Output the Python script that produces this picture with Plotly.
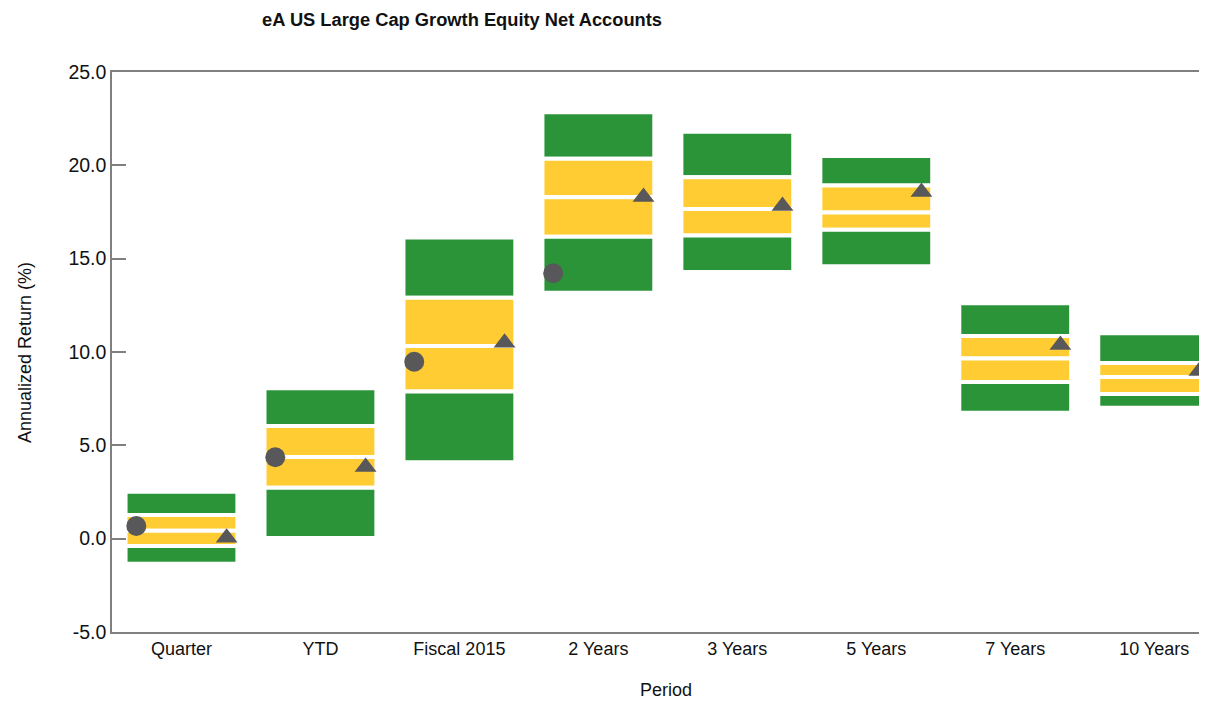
import plotly.graph_objects as go

periods = ["Quarter", "YTD", "Fiscal 2015", "2 Years", "3 Years", "5 Years", "7 Years", "10 Years"]

# universe percentiles (5th = top of bar, 95th = bottom)
p5 = [2.52, 8.06, 16.14, 22.84, 21.80, 20.50, 12.61, 11.00]
p25 = [1.27, 6.04, 12.90, 20.35, 19.36, 18.92, 10.86, 9.41]
median = [0.43, 4.38, 10.32, 18.29, 17.66, 17.47, 9.65, 8.66]
p75 = [-0.39, 2.73, 7.88, 16.17, 16.24, 16.55, 8.39, 7.75]
p95 = [-1.34, 0.04, 4.10, 13.18, 14.28, 14.60, 6.75, 7.02]

portfolio = [0.68, 4.36, 9.48, 14.22, None, None, None, None]
benchmark = [0.05, 3.84, 10.50, 18.30, 17.82, 18.57, 10.38, 8.98]

y_ticks = [-5, 0, 5, 10, 15, 20, 25]
y_labels = ["-5.0", "0.0", "5.0", "10.0", "15.0", "20.0", "25.0"]

GREEN = "#2b9438"
YELLOW = "#ffcc33"
MARK = "#58585a"
FONT = "Liberation Sans, Arial, sans-serif"

xs = list(range(len(periods)))
bar_w = 0.805

fig = go.Figure()

segments = [
    (p25, p5, GREEN),
    (median, p25, YELLOW),
    (p75, median, YELLOW),
    (p95, p75, GREEN),
]
for lo, hi, col in segments:
    fig.add_trace(go.Bar(
        x=xs, base=lo, y=[h - l for h, l in zip(hi, lo)],
        width=bar_w, marker=dict(color=col, line=dict(color="white", width=4)),
        hoverinfo="skip", showlegend=False,
    ))

fig.add_trace(go.Scatter(
    x=[i - 0.325 for i in xs], y=portfolio, mode="markers",
    marker=dict(symbol="circle", size=20, color=MARK), showlegend=False,
))
fig.add_trace(go.Scatter(
    x=[i + 0.325 for i in xs], y=benchmark, mode="markers",
    marker=dict(symbol="triangle-up", size=19, color=MARK), showlegend=False,
))

# page body has an 8px margin, so the figure is shrunk by that much
fig.update_layout(
    width=1199, height=695,
    barmode="overlay",
    plot_bgcolor="white", paper_bgcolor="white",
    margin=dict(l=104, r=0, t=64, b=71),
    font=dict(family=FONT, size=18, color="#111111"),
    title=dict(
        text="<b>eA US Large Cap Growth Equity Net Accounts</b>",
        x=0.3787, xanchor="center", xref="container",
        y=0.983, yanchor="middle",
        font=dict(family=FONT, size=18.3, color="#111111"),
    ),
    xaxis=dict(
        range=[-0.5, 7.38], tickvals=xs, ticktext=periods,
        showline=True, linecolor="#808080", linewidth=1.5, mirror=True,
        showgrid=False, zeroline=False, ticks="",
    ),
    yaxis=dict(
        range=[-5, 25], tickvals=y_ticks, ticktext=y_labels,
        tickfont=dict(size=19.5),
        showline=True, linecolor="#808080", linewidth=1.5,
        ticks="inside", ticklen=14, tickcolor="#808080", tickwidth=1.5,
        ticklabelstandoff=0,
        showgrid=False, zeroline=False,
    ),
    annotations=[
        dict(text="Annualized Return (%)", textangle=-90, xref="paper", yref="paper",
             x=(25 - 112) / 1095, y=0.5, xanchor="center", yanchor="middle",
             showarrow=False, font=dict(family=FONT, size=18)),
        dict(text="Period", xref="paper", yref="paper",
             x=(666 - 112) / 1095, y=(632 - 690) / 560, xanchor="center", yanchor="middle",
             showarrow=False, font=dict(family=FONT, size=18)),
    ],
)

fig.write_html("out.html")
